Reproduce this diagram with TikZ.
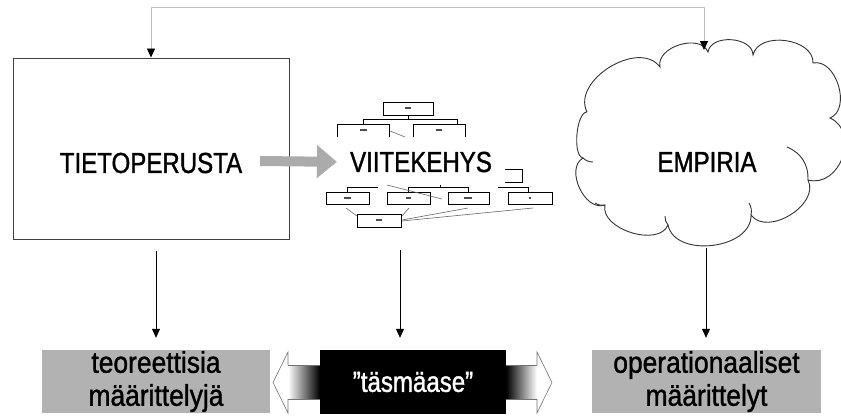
\documentclass[tikz,border=0pt]{standalone}
\usepackage{fontspec}
\setmainfont{Liberation Sans}
\newfontfamily\capsfont{Liberation Sans}[FakeStretch=0.83,FakeBold=1.2]
\newfontfamily\boxfont{Liberation Sans}[FakeStretch=0.88,FakeBold=1.2]
\usetikzlibrary{arrows.meta}

\begin{document}
\begin{tikzpicture}[x=1pt,y=-1pt,
	bigbox/.style={draw=black!75,line width=1pt,minimum width=276pt,minimum height=181pt},
	bigtext/.style={inner sep=0pt,font=\capsfont\fontsize{29}{33}\selectfont},
	greybox/.style={fill=black!30,minimum height=63pt,inner sep=0pt,align=center,font=\boxfont\fontsize{30}{33}\selectfont},
	droparrow/.style={line width=0.8pt,-{Triangle[length=9pt,width=8pt]},shorten <=11pt,shorten >=12pt},
	fatarrow/.style={line width=10pt,black!33,-{Triangle[length=20pt,width=32pt]}},
	feedback/.style={line width=0.8pt,black!25,{Triangle[length=9pt,width=8pt,color=black]}-{Triangle[length=9pt,width=8pt,color=black]}},
	puff/.style={bend left=85,looseness=1.05},
	cloudline/.style={line width=0.9pt,black!80},
	orgline/.style={line width=0.9pt},
	thinline/.style={line width=0.6pt,black!60}]

	\useasboundingbox (0,0) rectangle (841,418);

	% top row
	\node[bigbox] (tieto) at (151,148.5) {};
	\node[bigtext] (tietotext) at (151,163) {TIETOPERUSTA};
	\node[bigtext] (viitetext) at (421,162) {VIITEKEHYS};
	\node[bigtext] (empiriatext) at (707,162) {EMPIRIA};

	% cloud
	\draw[cloudline] (587,112) to[puff] (660,67) to[puff] (708,52) to[puff] (753,55)
		to[puff] (813,63) to[puff] (830,118) to[puff,looseness=1.3] (808,180)
		to[puff] (751,215) to[puff] (668,225) to[puff,looseness=0.95] (605,205)
		to[puff] (583,158) to[puff,looseness=0.6] (587,112);
	\draw[cloudline] (787,147) to[bend left=35] (808,180);
	\draw[cloudline] (749,203) to[bend left=20] (751,215);
	\draw[cloudline] (665,216) to[bend right=20] (668,225);
	\draw[cloudline] (595,203) to[bend right=20] (605,205);
	\draw[cloudline] (593,162) to[bend left=20] (583,158);

	% org chart behind VIITEKEHYS
	\draw[orgline] (383,102) rectangle (433,115);
	\draw[orgline] (408,115) -- (408,119);
	\draw[orgline] (363,124) -- (363,119) -- (457,119) -- (457,124);
	\draw[orgline] (337,137) -- (337,124) -- (389,124) -- (389,137);
	\draw[orgline] (413,137) -- (413,124) -- (465,124) -- (465,137);
	\draw[thinline] (390,131) -- (405,137);
	\draw[orgline] (505,169) -- (522,169) -- (522,182) -- (505,182);
	\draw[orgline] (378,187) -- (347,187) -- (347,192);
	\draw[orgline] (408,192) -- (408,187) -- (468,187) -- (468,192);
	\draw[orgline] (440,185) -- (440,187);
	\draw[orgline] (498,187) -- (528,187) -- (528,192);
	\draw[orgline] (326,192) rectangle (369,204);
	\draw[orgline] (387,192) rectangle (430,204);
	\draw[orgline] (448,192) rectangle (489,204);
	\draw[orgline] (508,192) rectangle (552,204);
	\draw[orgline] (357,214) rectangle (401,227);
	\draw[thinline] (387,185) -- (442,199);
	\draw[thinline] (346,208) -- (357,216);
	\draw[thinline] (409,208) -- (402,216);
	\draw[thinline] (402,220) -- (468,208);
	\draw[thinline] (402,221) -- (533,208);
	\foreach \mx/\my/\mw in {408/108/6, 363/130/7, 439/130/6, 347/198/7, 408/198/5, 468/198/8, 530/198/2, 379/220/6}
		\fill[black!70] (\mx-\mw/2,\my-1.2) rectangle (\mx+\mw/2,\my+1.2);

	% bottom row
	\node[greybox,minimum width=228pt] (teo) at (156,381.5) {teoreettisia\\määrittelyjä};
	\node[fill=black,minimum width=186pt,minimum height=64pt,inner sep=0pt,text=white,
		font=\capsfont\fontsize{29}{33}\selectfont] (tasma) at (413,382) {”täsmäase”};
	\node[greybox,minimum width=229pt] (oper) at (706.5,381.5) {operationaaliset\\määrittelyt};

	\coordinate (fatstart) at (260,161);
	\coordinate (viitefoot) at (400,239);
	\coordinate (cloudfoot) at (706,243);
	\coordinate (cloudtop) at (704,50);
	\coordinate (feedtop) at (0,7);

	% arrows
	\draw[fatarrow,shorten >=13pt] (fatstart) -- (viitetext.west);
	\draw[feedback] (tieto.north) -- (tieto.north |- feedtop) -| (cloudtop);
	\draw[droparrow] (teo |- tieto.south) -- (teo.north);
	\draw[droparrow] (viitefoot) -- (viitefoot |- tasma.north);
	\draw[droparrow,shorten <=5pt] (cloudfoot) -- (cloudfoot |- oper.north);

	% shaded double arrow
	\shade[left color=white,right color=black] (288,365) rectangle (tasma.west |- 0,399);
	\draw[black!55,line width=0.6pt,fill=white] (288,365) -- (288,352) -- (273,382.5) -- (288,413) -- (288,399);
	\draw[black!55,line width=0.6pt] (288,365) -- (tasma.west |- 0,365) (288,399) -- (tasma.west |- 0,399);
	\shade[left color=black,right color=white] (tasma.east |- 0,365) rectangle (537,399);
	\draw[black!55,line width=0.6pt,fill=white] (537,365) -- (537,352) -- (552,382.5) -- (537,413) -- (537,399);
	\draw[black!55,line width=0.6pt] (537,365) -- (tasma.east |- 0,365) (537,399) -- (tasma.east |- 0,399);
\end{tikzpicture}
\end{document}
